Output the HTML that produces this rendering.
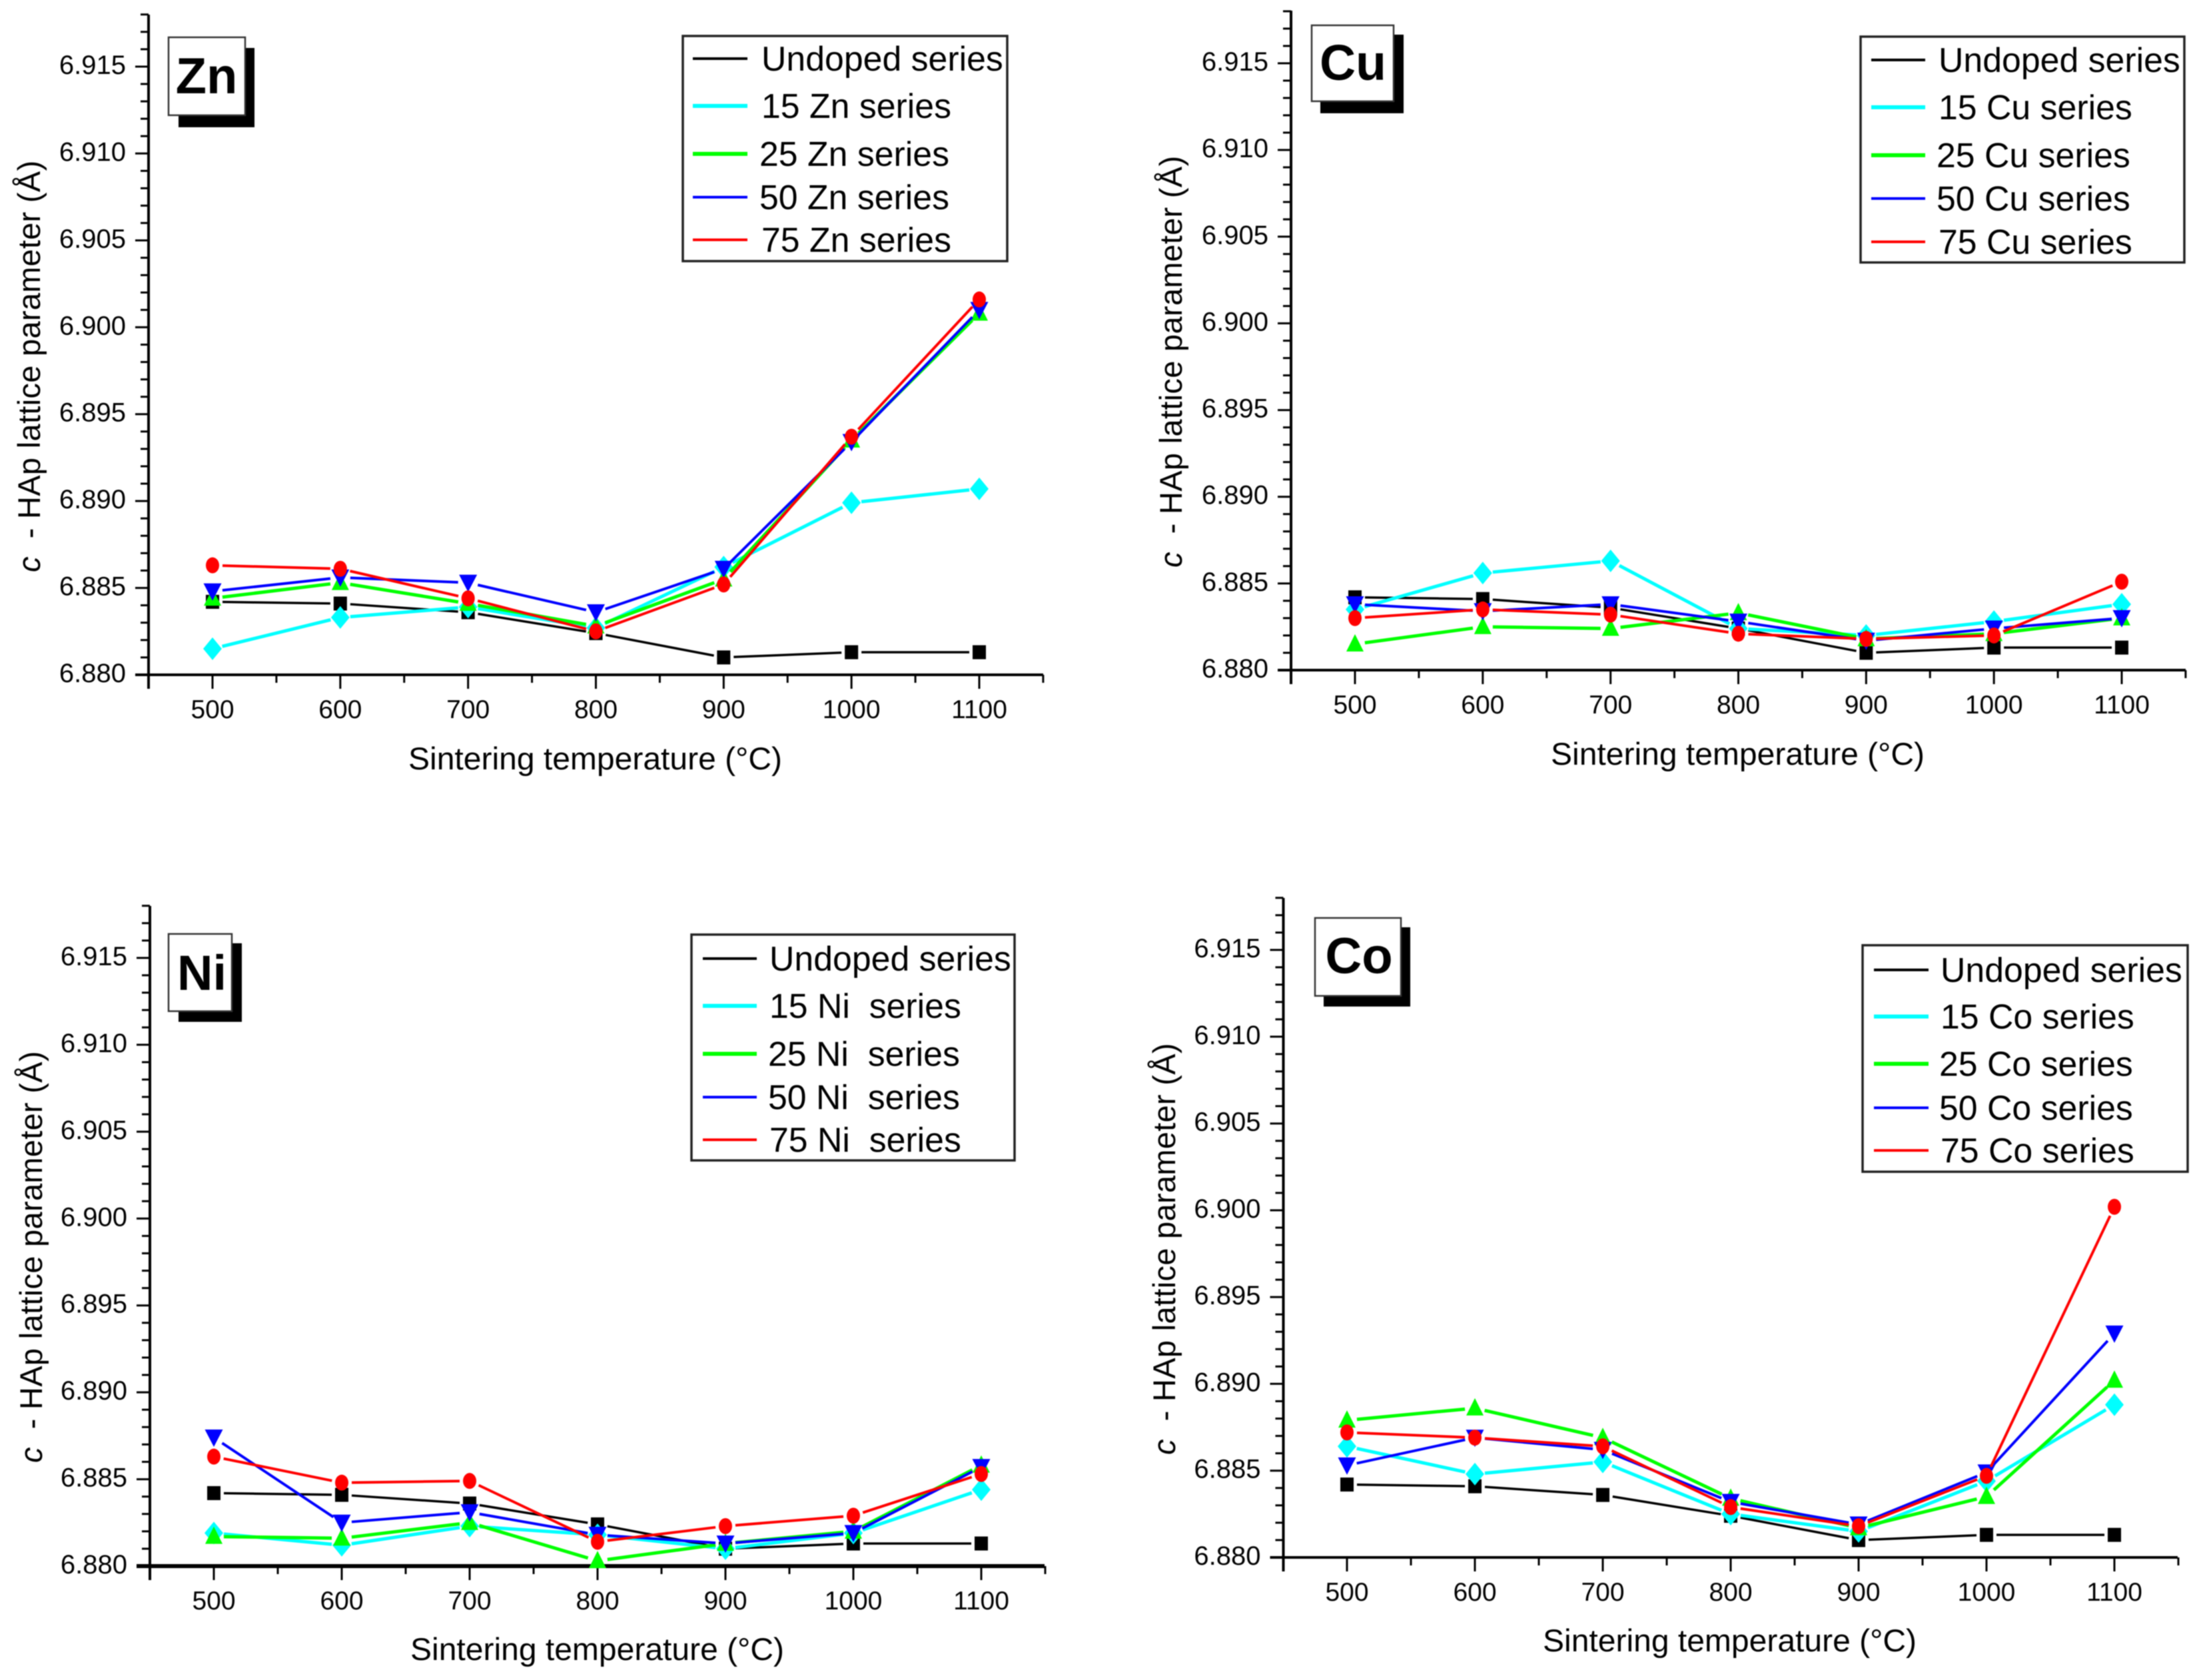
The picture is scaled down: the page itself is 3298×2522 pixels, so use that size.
<!DOCTYPE html>
<html lang="en">
<head>
<meta charset="utf-8">
<title>HAp c lattice parameter vs sintering temperature</title>
<style>
html,body{margin:0;padding:0;background:#fff;width:3298px;height:2522px;overflow:hidden}
svg{display:block;filter:blur(0.8px)}
text{font-family:"Liberation Sans",sans-serif;fill:#000}
</style>
</head>
<body>
<svg id="figure" xmlns="http://www.w3.org/2000/svg" width="3298" height="2522" viewBox="0 0 3298 2522">
  <rect width="3298" height="2522" fill="#fff"/>
  <g id="panel-zn"></g>
  <g id="panel-cu"></g>
  <g id="panel-ni"></g>
  <g id="panel-co"></g>
</svg>
<script>
// ---- chart data ----
const temperatures = [500, 600, 700, 800, 900, 1000, 1100];
const xTickLabels = ['500', '600', '700', '800', '900', '1000', '1100'];
const yMajorValues = [6.880, 6.885, 6.890, 6.895, 6.900, 6.905, 6.910, 6.915];
const yTickLabels = ['6.880', '6.885', '6.890', '6.895', '6.900', '6.905', '6.910', '6.915'];

const undoped = [6.8842, 6.8841, 6.8836, 6.8824, 6.8810, 6.8813, 6.8813];

const zn15 = [6.8815, 6.8833, 6.8839, 6.8827, 6.8862, 6.8899, 6.8907];
const zn25 = [6.8844, 6.8853, 6.8841, 6.8828, 6.8855, 6.8935, 6.9008];
const zn50 = [6.8848, 6.8856, 6.8853, 6.8836, 6.8861, 6.8934, 6.9010];
const zn75 = [6.8863, 6.8861, 6.8844, 6.8825, 6.8852, 6.8937, 6.9016];

const cu15 = [6.8835, 6.8856, 6.8863, 6.8824, 6.8820, 6.8828, 6.8838];
const cu25 = [6.8815, 6.8825, 6.8824, 6.8833, 6.8818, 6.8821, 6.8830];
const cu50 = [6.8838, 6.8834, 6.8838, 6.8828, 6.8817, 6.8824, 6.8830];
const cu75 = [6.8830, 6.8835, 6.8832, 6.8821, 6.8818, 6.8820, 6.8851];

const ni15 = [6.8819, 6.8812, 6.8823, 6.8818, 6.8810, 6.8819, 6.8844];
const ni25 = [6.8817, 6.8816, 6.8825, 6.8803, 6.8813, 6.8820, 6.8858];
const ni50 = [6.8874, 6.8825, 6.8831, 6.8818, 6.8813, 6.8819, 6.8857];
const ni75 = [6.8863, 6.8848, 6.8849, 6.8814, 6.8823, 6.8829, 6.8853];

const co15 = [6.8864, 6.8848, 6.8855, 6.8825, 6.8815, 6.8844, 6.8888];
const co25 = [6.8879, 6.8886, 6.8869, 6.8834, 6.8817, 6.8835, 6.8902];
const co50 = [6.8853, 6.8869, 6.8862, 6.8832, 6.8819, 6.8849, 6.8929];
const co75 = [6.8872, 6.8869, 6.8864, 6.8829, 6.8818, 6.8847, 6.9002];

const znLabels = ['Undoped series', '15 Zn series', '25 Zn series', '50 Zn series', '75 Zn series'];
const cuLabels = ['Undoped series', '15 Cu series', '25 Cu series', '50 Cu series', '75 Cu series'];
const niLabels = ['Undoped series', '15 Ni  series', '25 Ni  series', '50 Ni  series', '75 Ni  series'];
const coLabels = ['Undoped series', '15 Co series', '25 Co series', '50 Co series', '75 Co series'];

// ---- styling & layout (not data) ----
const NS = 'http://www.w3.org/2000/svg';
const seriesColors = ['#000000', '#00ffff', '#00ff00', '#0000ff', '#ff0000'];
const seriesKeys = ['undoped', '15-doped', '25-doped', '50-doped', '75-doped'];
const seriesWidths = [3.5, 5, 5, 4, 4];
const legendWidths = [4, 6, 6, 4, 4];

const panelZn = {
  id: 'panel-zn', key: 'zn', series: [undoped, zn15, zn25, zn50, zn75], labels: znLabels, xAxisWidth: 4,
  axisX: 223, axisY: 1013, y915: 100, topY: 22, rightX: 1566, x500: 319, x1100: 1470,
  yTitleX: 60, yTitleY: 550, xTitleX: 893, xTitleY: 1155,
  tag: 'Zn', tagBox: [253, 56, 115, 117], tagShadow: [268, 72, 114, 119], tagX: 310, tagY: 140, tagSize: 76,
  legend: [1025, 54, 487, 338], legendRows: [88, 159, 231, 296, 360], legendLine: [1040, 1122], legendText: [1143, 1143, 1140, 1140, 1143]
};
const panelCu = {
  id: 'panel-cu', key: 'cu', series: [undoped, cu15, cu25, cu50, cu75], labels: cuLabels, xAxisWidth: 4,
  axisX: 1938, axisY: 1006, y915: 95, topY: 16, rightX: 3281, x500: 2034, x1100: 3185,
  yTitleX: 1774, yTitleY: 543, xTitleX: 2608, xTitleY: 1148,
  tag: 'Cu', tagBox: [1969, 38, 123, 114], tagShadow: [1982, 52, 125, 118], tagX: 2031, tagY: 120, tagSize: 75,
  legend: [2793, 55, 486, 339], legendRows: [90, 161, 233, 298, 363], legendLine: [2809, 2890], legendText: [2910, 2910, 2907, 2907, 2910]
};
const panelNi = {
  id: 'panel-ni', key: 'ni', series: [undoped, ni15, ni25, ni50, ni75], labels: niLabels, xAxisWidth: 6,
  axisX: 225, axisY: 2351, y915: 1438, topY: 1360, rightX: 1568, x500: 321, x1100: 1473,
  yTitleX: 63, yTitleY: 1887, xTitleX: 896, xTitleY: 2492,
  tag: 'Ni', tagBox: [253, 1402, 95, 116], tagShadow: [268, 1416, 95, 118], tagX: 303, tagY: 1486, tagSize: 74,
  legend: [1038, 1403, 485, 339], legendRows: [1439, 1510, 1582, 1647, 1711], legendLine: [1055, 1136], legendText: [1155, 1155, 1153, 1153, 1155]
};
const panelCo = {
  id: 'panel-co', key: 'co', series: [undoped, co15, co25, co50, co75], labels: coLabels, xAxisWidth: 4,
  axisX: 1926.5, axisY: 2338, y915: 1426, topY: 1348, rightX: 3269, x500: 2022, x1100: 3174,
  yTitleX: 1764, yTitleY: 1875, xTitleX: 2596, xTitleY: 2479,
  tag: 'Co', tagBox: [1974, 1378, 129, 117], tagShadow: [1987, 1392, 130, 119], tagX: 2040, tagY: 1461, tagSize: 76,
  legend: [2796, 1419, 488, 340], legendRows: [1456, 1526, 1597, 1663, 1727], legendLine: [2813, 2895], legendText: [2913, 2913, 2911, 2911, 2913]
};
const panels = [panelZn, panelCu, panelNi, panelCo];

function make(parent, tag) {
  const el = document.createElementNS(NS, tag);
  parent.appendChild(el);
  return el;
}
function rule(parent, x1, y1, x2, y2, width, color) {
  const el = make(parent, 'line');
  el.setAttribute('x1', x1);
  el.setAttribute('y1', y1);
  el.setAttribute('x2', x2);
  el.setAttribute('y2', y2);
  el.setAttribute('stroke', color);
  el.setAttribute('stroke-width', width);
  return el;
}

function drawMarker(g, index, cx, cy, name) {
  let el;
  if (index === 0) {
    el = make(g, 'rect');
    el.setAttribute('x', cx - 10);
    el.setAttribute('y', cy - 10.5);
    el.setAttribute('width', 20);
    el.setAttribute('height', 21);
  } else if (index === 1) {
    el = make(g, 'polygon');
    el.setAttribute('points', [[cx, cy - 17], [cx + 14, cy], [cx, cy + 17], [cx - 14, cy]].join(' '));
  } else if (index === 2) {
    el = make(g, 'polygon');
    el.setAttribute('points', [[cx, cy - 15], [cx + 13, cy + 11], [cx - 13, cy + 11]].join(' '));
  } else if (index === 3) {
    el = make(g, 'polygon');
    el.setAttribute('points', [[cx - 13.5, cy - 12], [cx + 13.5, cy - 12], [cx, cy + 14]].join(' '));
  } else {
    el = make(g, 'ellipse');
    el.setAttribute('cx', cx);
    el.setAttribute('cy', cy);
    el.setAttribute('rx', 10);
    el.setAttribute('ry', 12);
  }
  el.setAttribute('fill', seriesColors[index]);
  
  
}

function drawPanel(p) {
  const root = document.getElementById(p.id);
  const xPos = t => p.x500 + (t - 500) / 600 * (p.x1100 - p.x500);
  const yPos = v => p.axisY - (v - 6.880) / 0.035 * (p.axisY - p.y915);

  // axes
  const yAxis = rule(root, p.axisX, p.topY, p.axisX, p.axisY + 21, 4, '#000');
  
  
  const xAxis = rule(root, p.axisX - 20, p.axisY, p.rightX, p.axisY, p.xAxisWidth, '#000');
  
  

  // y minor ticks
  for (let i = 1; i <= 38; i++) {
    if (i % 5 === 0) continue;
    const tick = rule(root, p.axisX - 12, yPos(6.880 + i * 0.001), p.axisX, yPos(6.880 + i * 0.001), 3, '#000');
    
    
  }
  // y major ticks + labels
  yMajorValues.forEach((v, i) => {
    const tick = rule(root, p.axisX - 20, yPos(v), p.axisX, yPos(v), 3, '#000');
    
    
    const label = make(root, 'text');
    label.textContent = yTickLabels[i];
    label.setAttribute('x', p.axisX - 34);
    label.setAttribute('y', yPos(v) + 11);
    label.setAttribute('text-anchor', 'end');
    label.setAttribute('font-size', 40);
    
    
  });
  // x ticks + labels
  temperatures.forEach((t, i) => {
    const tick = rule(root, xPos(t), p.axisY, xPos(t), p.axisY + 21, 3, '#000');
    
    
    const minor = rule(root, xPos(t + 50), p.axisY, xPos(t + 50), p.axisY + 12, 3, '#000');
    
    
    const label = make(root, 'text');
    label.textContent = xTickLabels[i];
    label.setAttribute('x', xPos(t));
    label.setAttribute('y', p.axisY + 65);
    label.setAttribute('text-anchor', 'middle');
    label.setAttribute('font-size', 39);
    
    
  });

  // axis titles
  const xTitle = make(root, 'text');
  xTitle.textContent = 'Sintering temperature (°C)';
  xTitle.setAttribute('x', p.xTitleX - 280);
  xTitle.setAttribute('y', p.xTitleY);
  xTitle.setAttribute('font-size', 47);
  xTitle.setAttribute('textLength', 561);
  xTitle.setAttribute('lengthAdjust', 'spacingAndGlyphs');
  
  

  const yTitle = make(root, 'text');
  yTitle.setAttribute('transform', 'translate(' + p.yTitleX + ',' + (p.yTitleY + 309) + ') rotate(-90)');
  yTitle.setAttribute('font-size', 47);
  yTitle.setAttribute('textLength', 618);
  yTitle.setAttribute('lengthAdjust', 'spacing');
  yTitle.style.whiteSpace = 'pre';
  
  
  const italicC = make(yTitle, 'tspan');
  italicC.setAttribute('font-style', 'italic');
  italicC.textContent = 'c';
  const restTitle = make(yTitle, 'tspan');
  restTitle.textContent = '  - HAp lattice parameter (Å)';

  // series lines
  const seriesGroup = make(root, 'g');
  
  
  p.series.forEach((values, s) => {
    const g = make(seriesGroup, 'g');
    
    
    for (let i = 0; i < values.length - 1; i++) {
      const x1 = xPos(temperatures[i]), y1 = yPos(values[i]);
      const x2 = xPos(temperatures[i + 1]), y2 = yPos(values[i + 1]);
      const len = Math.hypot(x2 - x1, y2 - y1);
      const gap = 15;
      const ux = (x2 - x1) / len, uy = (y2 - y1) / len;
      const seg = rule(g, x1 + ux * gap, y1 + uy * gap, x2 - ux * gap, y2 - uy * gap, seriesWidths[s], seriesColors[s]);
      
      
    }
    values.forEach((v, i) => {
      drawMarker(g, s, xPos(temperatures[i]), yPos(v), p.key + '-marker-' + seriesKeys[s]);
    });
  });

  // element tag
  const shadow = make(root, 'rect');
  shadow.setAttribute('x', p.tagShadow[0]);
  shadow.setAttribute('y', p.tagShadow[1]);
  shadow.setAttribute('width', p.tagShadow[2]);
  shadow.setAttribute('height', p.tagShadow[3]);
  shadow.setAttribute('fill', '#000');
  
  
  const box = make(root, 'rect');
  box.setAttribute('x', p.tagBox[0]);
  box.setAttribute('y', p.tagBox[1]);
  box.setAttribute('width', p.tagBox[2]);
  box.setAttribute('height', p.tagBox[3]);
  box.setAttribute('fill', '#fff');
  box.setAttribute('stroke', '#333');
  box.setAttribute('stroke-width', 2.5);
  
  
  const tag = make(root, 'text');
  tag.textContent = p.tag;
  tag.setAttribute('x', p.tagX);
  tag.setAttribute('y', p.tagY);
  tag.setAttribute('text-anchor', 'middle');
  tag.setAttribute('font-size', p.tagSize);
  tag.setAttribute('font-weight', 'bold');
  
  

  // legend
  const legend = make(root, 'g');
  
  
  const frame = make(legend, 'rect');
  frame.setAttribute('x', p.legend[0]);
  frame.setAttribute('y', p.legend[1]);
  frame.setAttribute('width', p.legend[2]);
  frame.setAttribute('height', p.legend[3]);
  frame.setAttribute('fill', '#fff');
  frame.setAttribute('stroke', '#222');
  frame.setAttribute('stroke-width', 3.5);
  
  
  p.labels.forEach((text, s) => {
    const swatch = rule(legend, p.legendLine[0], p.legendRows[s], p.legendLine[1], p.legendRows[s], legendWidths[s], seriesColors[s]);
    
    
    const label = make(legend, 'text');
    label.textContent = text;
    label.style.whiteSpace = 'pre';
    label.setAttribute('x', p.legendText[s]);
    label.setAttribute('y', p.legendRows[s] + 18);
    label.setAttribute('font-size', 51.8);
    
    
  });
}

panels.forEach(drawPanel);
</script>
</body>
</html>
